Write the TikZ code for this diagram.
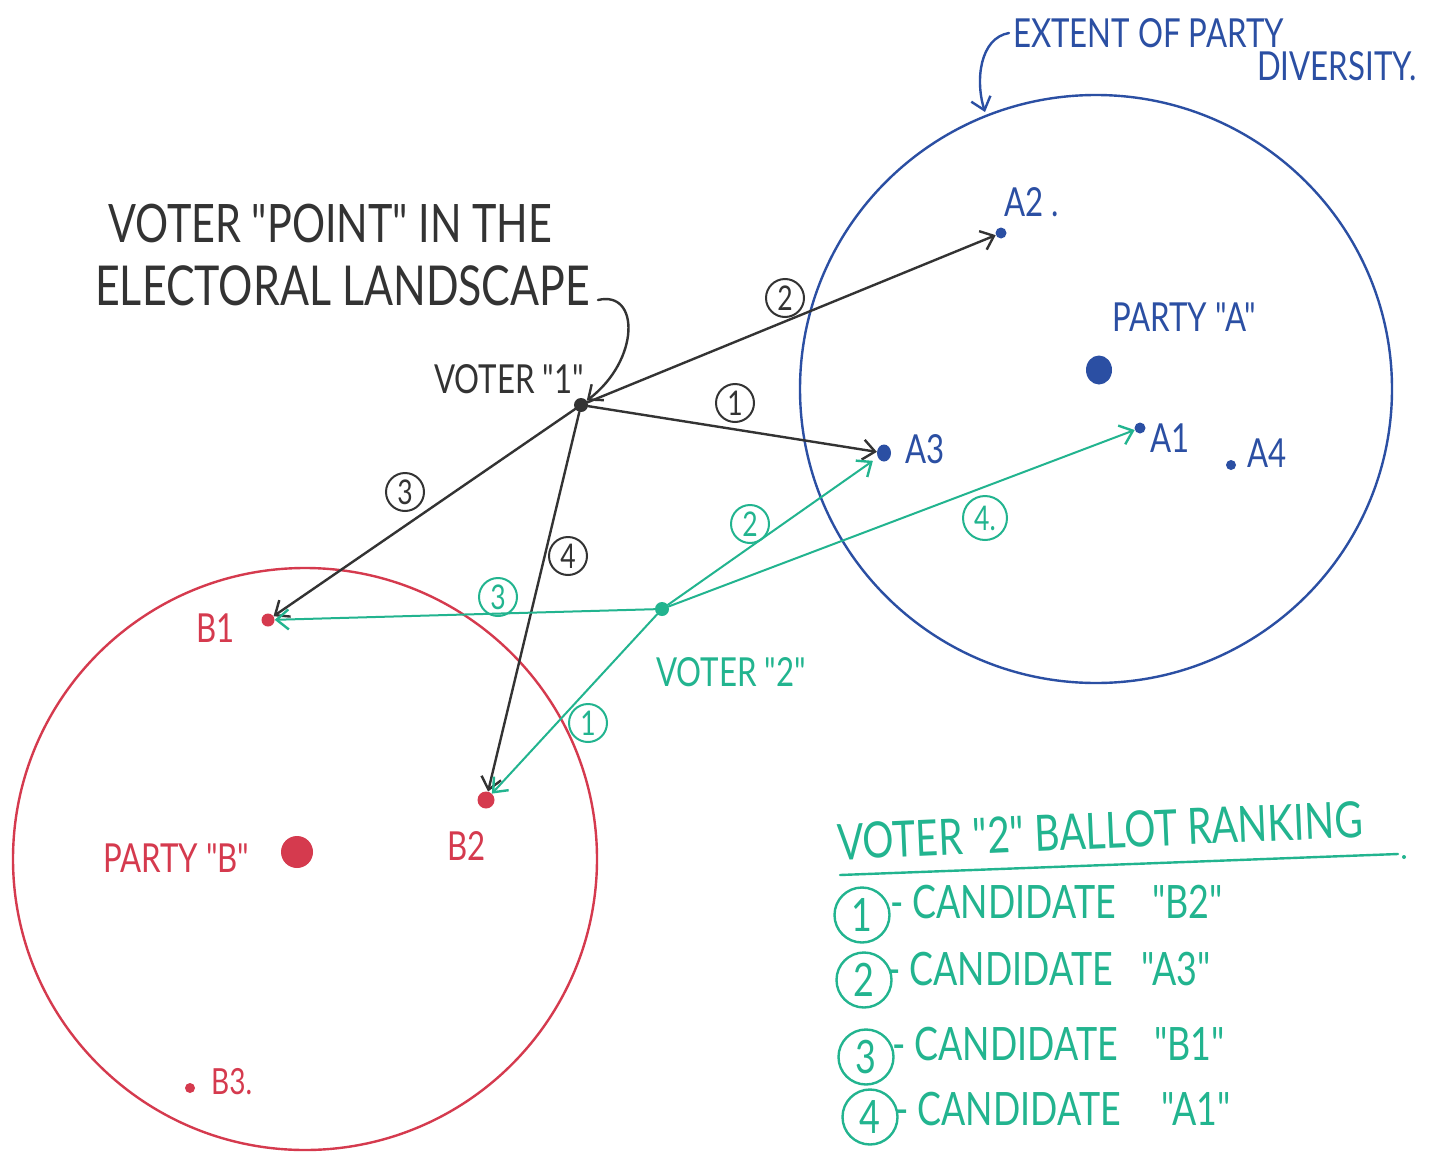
\documentclass[tikz,border=0pt]{standalone}
\usepackage{fontspec}
\usetikzlibrary{arrows.meta,shapes.geometric}
\newfontfamily\hand[FakeStretch=0.78]{Lato}
\definecolor{inkblack}{HTML}{333333}
\definecolor{inkblue}{HTML}{2B4FA3}
\definecolor{inkred}{HTML}{D53A4E}
\definecolor{inkgreen}{HTML}{22B48F}
\newcommand{\fs}[1]{\hand\fontsize{#1}{#1}\selectfont}
\tikzset{
  ink/.style={line width=2.4pt, line cap=round, line join=round},
  arr/.style={ink, -{Straight Barb[length=12pt,width=20pt,line width=2.4pt]}},
  lbl/.style={inner sep=0pt, anchor=base west},
  num/.style={circle, draw, line width=2pt, inner sep=0pt, minimum size=38pt, font=\fs{34}},
  bignum/.style={circle, draw, line width=2.4pt, inner sep=0pt, minimum size=55pt, font=\fs{46}},
  dot/.style={circle, fill, inner sep=0pt},
  eggdot/.style={ellipse, fill, inner sep=0pt},
}
\begin{document}
\begin{tikzpicture}[x=1pt, y=-1pt]
\fill[white] (0,0) rectangle (1444,1154);
\useasboundingbox (0,0) rectangle (1444,1154);

% party territories
\draw[inkblue, ink] (1096,389) ellipse [x radius=296, y radius=294];
\draw[inkred, ink] (305,859) ellipse [x radius=292, y radius=291];

% party A and its candidates
\node[eggdot, inkblue, minimum width=26pt, minimum height=29pt] (pa) at (1099,370) {};
\node[dot, inkblue, minimum size=11pt] (a2) at (1001,233) {};
\node[eggdot, inkblue, minimum width=14pt, minimum height=17pt] (a3) at (884,453) {};
\node[dot, inkblue, minimum size=11pt] (a1) at (1140,428) {};
\node[dot, inkblue, minimum size=10pt] (a4) at (1231,465) {};
\node[lbl, inkblue, font=\fs{40}] (ta2) at (1004,216) {A2 .};
\node[lbl, inkblue, font=\fs{40}] (tpa) at (1112,331) {PARTY "A"};
\node[lbl, inkblue, font=\fs{40}] (ta3) at (905,463) {A3};
\node[lbl, inkblue, font=\fs{40}] (ta1) at (1150,452) {A1};
\node[lbl, inkblue, font=\fs{40}] (ta4) at (1247,467) {A4};

% party B and its candidates
\node[dot, inkred, minimum size=32pt] (pb) at (297,852) {};
\node[dot, inkred, minimum size=13pt] (b1) at (268,620) {};
\node[dot, inkred, minimum size=17pt] (b2) at (486,800) {};
\node[dot, inkred, minimum size=10pt] (b3) at (190,1088) {};
\node[lbl, inkred, font=\fs{40}] (tb1) at (196,642) {B1};
\node[lbl, inkred, font=\fs{40}] (tb2) at (447,860) {B2};
\node[lbl, inkred, font=\fs{40}] (tpb) at (103,872) {PARTY "B"};
\node[lbl, inkred, font=\fs{36}] (tb3) at (211,1094) {B3.};

% heading for party extent
\node[lbl, inkblue, font=\fs{40}] (ext) at (1013,47) {EXTENT OF PARTY};
\node[lbl, inkblue, font=\fs{40}] (div) at (1257,80) {DIVERSITY.};
\coordinate (extstart) at (1009,33);
\coordinate (extend) at (985,112);
\draw[arr, inkblue] (extstart) .. controls (980,38) and (975,80) .. (extend);

% voter 1
\node[dot, inkblack, minimum size=14pt] (v1) at (581,405) {};
\node[lbl, inkblack, font=\fs{53}] (h1) at (108,242) {VOTER "POINT" IN THE};
\node[lbl, inkblack, font=\fs{55}] (h2) at (95,305) {ELECTORAL LANDSCAPE};
\node[lbl, inkblack, font=\fs{40}] (tv1) at (434,393) {VOTER "1"};
\coordinate (h2end) at (598,300);
\draw[arr, inkblack] (h2end) .. controls (640,290) and (640,360) .. (v1);

\draw[arr, inkblack] (v1) -- (a2);
\draw[arr, inkblack] (v1) -- (a3);
\draw[arr, inkblack] (v1) -- (b1);
\draw[arr, inkblack] (v1) -- (b2);
\node[num, inkblack] (k1) at (735,403) {1};
\node[num, inkblack] (k2) at (785,298) {2};
\node[num, inkblack] (k3) at (405,492) {3};
\node[num, inkblack] (k4) at (568,556) {4};

% voter 2
\node[dot, inkgreen, minimum size=14pt] (v2) at (662,609) {};
\node[lbl, inkgreen, font=\fs{40}] (tv2) at (656,686) {VOTER "2"};
\draw[arr, inkgreen, line width=2pt] (v2) -- (b2);
\draw[arr, inkgreen, line width=2pt, shorten >=6pt] (v2) -- (a3);
\draw[arr, inkgreen, line width=2pt] (v2) -- (b1);
\draw[arr, inkgreen, line width=2pt] (v2) -- (a1);
\node[num, inkgreen] (g1) at (588,723) {1};
\node[num, inkgreen] (g2) at (750,524) {2};
\node[num, inkgreen] (g3) at (498,597) {3};
\node[num, inkgreen, minimum size=44pt] (g4) at (985,518) {4.};

% ballot of voter 2
\node[lbl, inkgreen, font=\fs{50}, rotate=2.5] (bt) at (838,860) {VOTER "2" BALLOT RANKING};
\coordinate (ula) at (840,875);
\coordinate (ulb) at (1398,854);
\draw[ink, inkgreen] (ula) -- (ulb);
\node[dot, inkgreen, minimum size=4pt] (uldot) at (1404,857) {};
\node[bignum, inkgreen] (r1) at (862,915) {1};
\node[bignum, inkgreen] (r2) at (864,980) {2};
\node[bignum, inkgreen] (r3) at (866,1057) {3};
\node[bignum, inkgreen] (r4) at (870,1117) {4};
\node[lbl, inkgreen, font=\fs{46}] (c1) at (890,918) {- CANDIDATE\hspace{36pt}"B2"};
\node[lbl, inkgreen, font=\fs{46}] (c2) at (887,985) {- CANDIDATE\hspace{28pt}"A3"};
\node[lbl, inkgreen, font=\fs{46}] (c3) at (892,1060) {- CANDIDATE\hspace{36pt}"B1"};
\node[lbl, inkgreen, font=\fs{46}] (c4) at (895,1125) {- CANDIDATE\hspace{40pt}"A1"};
\end{tikzpicture}
\end{document}
